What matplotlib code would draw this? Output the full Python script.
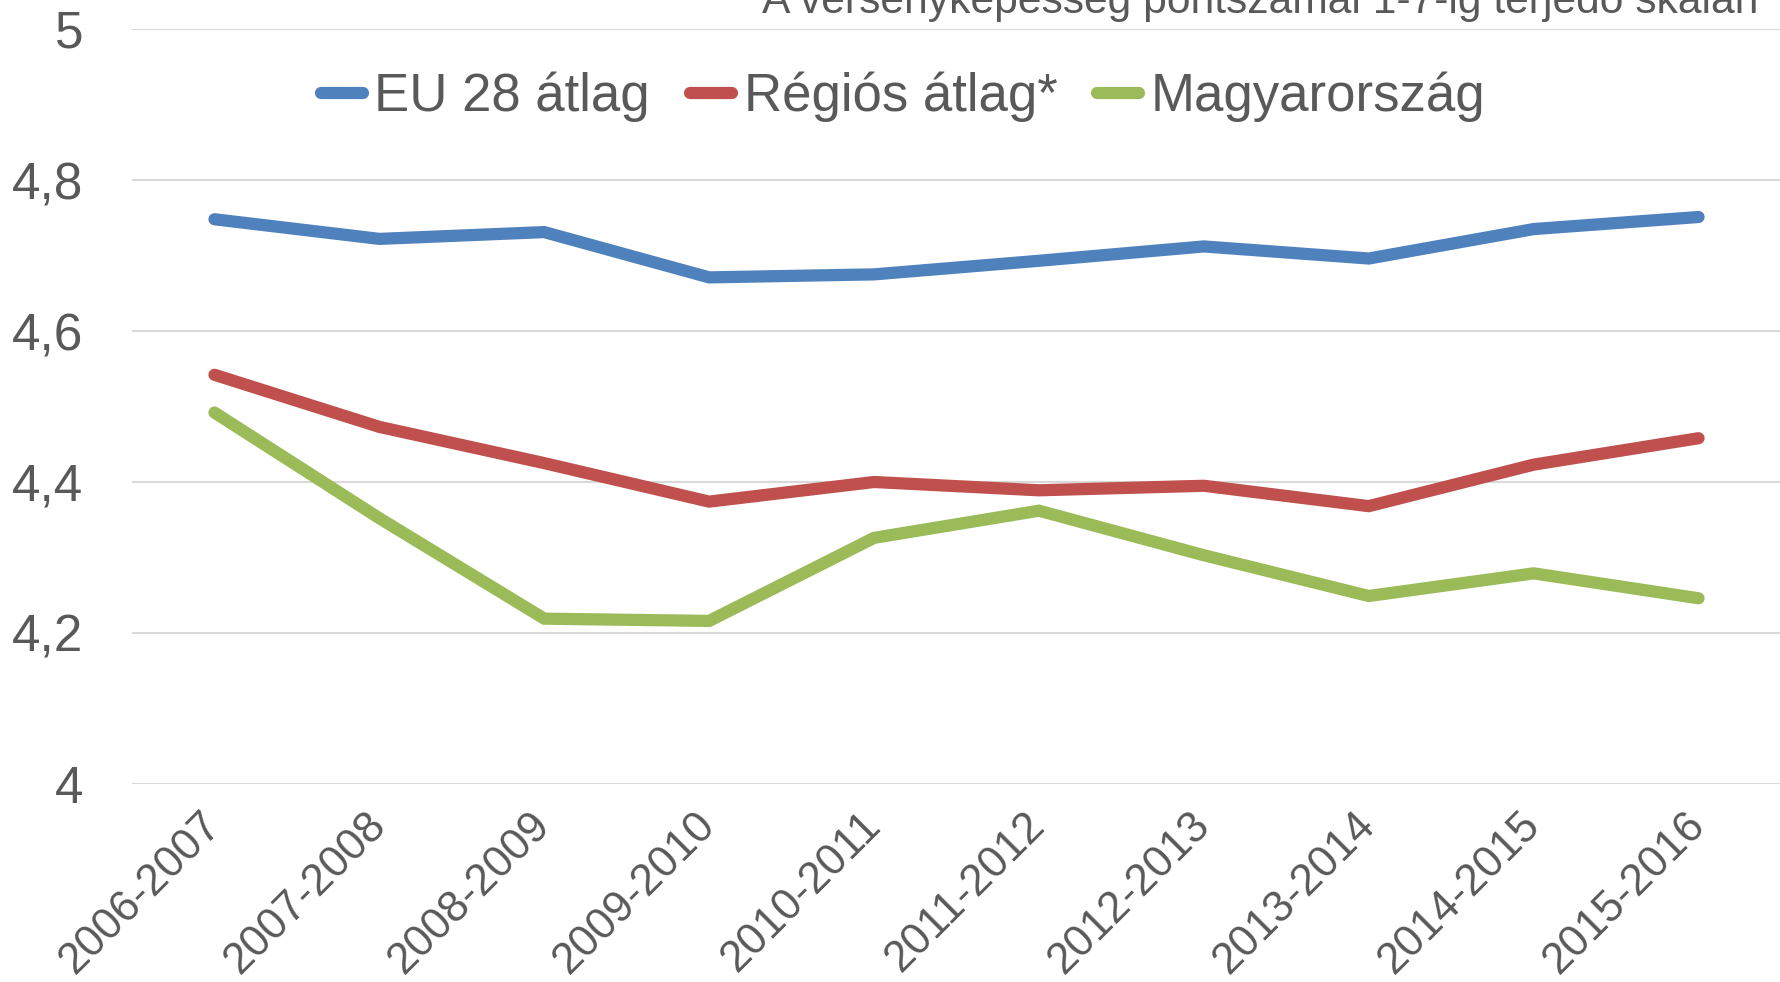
import matplotlib
matplotlib.use("Agg")
import matplotlib.pyplot as plt
from matplotlib.transforms import ScaledTranslation

plt.rcParams['font.family'] = ['Liberation Sans', 'DejaVu Sans']

categories = ["2006-2007", "2007-2008", "2008-2009", "2009-2010", "2010-2011",
              "2011-2012", "2012-2013", "2013-2014", "2014-2015", "2015-2016"]
eu28 = [4.748, 4.722, 4.731, 4.671, 4.675, 4.693, 4.712, 4.696, 4.735, 4.751]
regional = [4.542, 4.473, 4.425, 4.374, 4.400, 4.389, 4.395, 4.368, 4.423, 4.458]
hungary = [4.492, 4.352, 4.219, 4.216, 4.326, 4.362, 4.303, 4.249, 4.279, 4.246]
series_names = ["EU 28 átlag", "Régiós átlag*", "Magyarország"]
yticks = [4.0, 4.2, 4.4, 4.6, 4.8, 5.0]
ytick_labels = ["4", "4,2", "4,4", "4,6", "4,8", "5"]
title_text = "A versenyképesség pontszámai 1-7-ig terjedő skálán"

colors = ["#4F81BD", "#C0504D", "#9BBB59"]
text_color = "#595959"

fig = plt.figure(figsize=(17.81, 9.82), dpi=100)
ax = fig.add_axes([132/1781, 1-784/982, 1-132/1781, (784-29)/982])

x = list(range(len(categories)))
for vals, name, c in zip([eu28, regional, hungary], series_names, colors):
    ax.plot(x, vals, color=c, lw=8.8, label=name,
            solid_capstyle='round', solid_joinstyle='miter')

ax.set_xlim(-0.5, len(categories) - 0.5)
ax.set_ylim(4.0, 5.0)
ax.set_yticks(yticks)
ax.set_yticklabels(ytick_labels, fontsize=37, color=text_color)
ax.set_xticks(x)
ax.set_xticklabels(categories, fontsize=31.5, color=text_color,
                   rotation=45, ha='right', va='center', rotation_mode='anchor')
offset = ScaledTranslation(7/100, 0, fig.dpi_scale_trans)
for lbl in ax.get_xticklabels():
    lbl.set_transform(lbl.get_transform() + offset)
ax.tick_params(axis='x', length=0, pad=25)
ax.tick_params(axis='y', length=0, pad=35)
ax.grid(axis='y', color='#D9D9D9', lw=1.5)
ax.set_axisbelow(True)
for s in ax.spines.values():
    s.set_visible(False)

fig.legend(loc='center', bbox_to_anchor=(0.507, 0.901), ncol=3, frameon=False,
           fontsize=38, handlelength=0.8, handletextpad=0.22, columnspacing=0.75,
           labelcolor=text_color, borderpad=0, borderaxespad=0)

fig.text(1758/1781, 1 - 12.5/982, title_text, ha='right', va='baseline',
         fontsize=30.7, color=text_color)

fig.savefig("out.png", dpi=100)
